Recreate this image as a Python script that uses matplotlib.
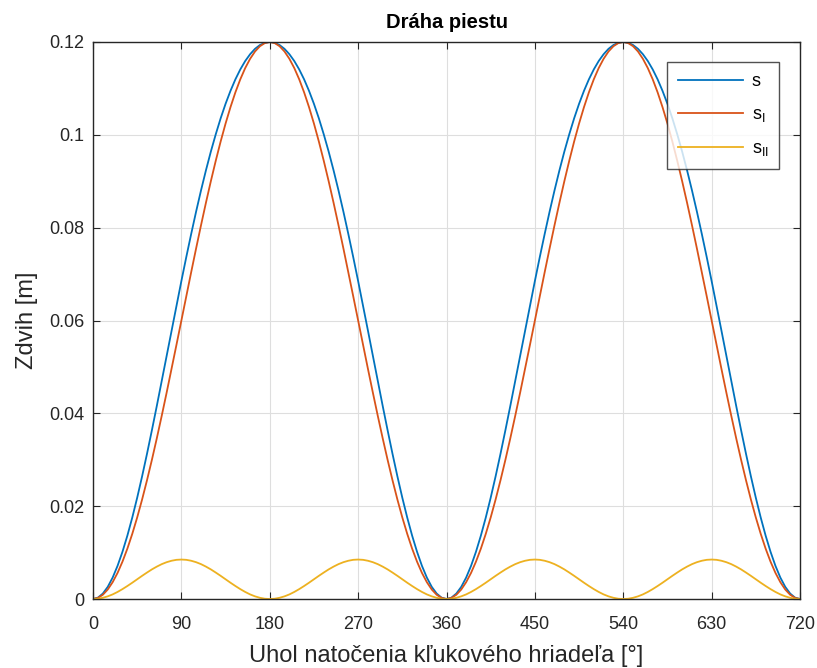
import numpy as np
import matplotlib
matplotlib.use("Agg")
import matplotlib.pyplot as plt

plt.rcParams['font.family'] = ['Liberation Sans', 'DejaVu Sans']
plt.rcParams['mathtext.fontset'] = 'custom'
plt.rcParams['mathtext.rm'] = 'Liberation Sans'

# Half cycle 0..180 deg, step 5 deg
s_half = [0, .00029, .00117, .00261, .00461, .00714, .01017, .01365, .01755, .02182,
          .02642, .03129, .03638, .04162, .04699, .05240, .05782, .06321, .06850,
          .07367, .07866, .08346, .08803, .09234, .09638, .10011, .10356, .10668,
          .10947, .11195, .11409, .11590, .11737, .11853, .11935, .11983, .12000]
sI_half = [0, .00023, .00091, .00204, .00362, .00562, .00804, .01085, .01404, .01757,
           .02143, .02559, .03000, .03464, .03948, .04447, .04958, .05477, .06000,
           .06523, .07042, .07553, .08052, .08536, .09000, .09441, .09857, .10243,
           .10596, .10915, .11196, .11438, .11638, .11796, .11909, .11977, .12000]
sII_half = [0, .00006, .00026, .00057, .00099, .00152, .00213, .00280, .00351, .00425,
            .00499, .00570, .00638, .00698, .00751, .00793, .00824, .00844, .00850,
            .00844, .00824, .00793, .00751, .00698, .00638, .00570, .00499, .00425,
            .00351, .00280, .00213, .00152, .00099, .00057, .00026, .00006, 0]

angle_step = 5
xticks = [0, 90, 180, 270, 360, 450, 540, 630, 720]
yticks = [0, 0.02, 0.04, 0.06, 0.08, 0.1, 0.12]
ytick_labels = ['0', '0.02', '0.04', '0.06', '0.08', '0.1', '0.12']
labels = ['s', r's$_\mathregular{I}$', r's$_\mathregular{II}$']
colors = ['#0072BD', '#D95319', '#EDB120']


def full(half):
    h = np.array(half)
    cyc = np.concatenate([h, h[-2::-1]])  # 0..360
    return np.concatenate([cyc, cyc[1:]])  # 0..720


s = full(s_half)
sI = full(sI_half)
sII = full(sII_half)
phi = np.arange(len(s)) * angle_step

fig = plt.figure(figsize=(8.17, 6.68), dpi=100)
ax = fig.add_axes([93/817, 69/668, 707/817, 557/668])

for y, lab, c in zip([s, sI, sII], labels, colors):
    ax.plot(phi, y, color=c, lw=1.3, label=lab)

ax.set_xlim(0, 720)
ax.set_ylim(0, 0.12)
ax.set_xticks(xticks)
ax.set_yticks(yticks)
ax.set_yticklabels(ytick_labels)
ax.grid(True, color='#dedede', lw=0.8)
ax.set_axisbelow(True)
ax.tick_params(direction='in', length=5, labelsize=13, colors='#262626',
               top=True, right=True)
ax.tick_params(axis='x', pad=12)
ax.tick_params(axis='y', pad=6)
for sp in ax.spines.values():
    sp.set_color('#262626')
    sp.set_linewidth(1.0)

ax.set_title('Dráha piestu', fontsize=14.5, fontweight='bold', pad=10)
ax.set_xlabel('Uhol natočenia kľukového hriadeľa [°]', fontsize=17, color='#262626', labelpad=9)
ax.set_ylabel('Zdvih [m]', fontsize=17, color='#262626', labelpad=8)

leg = ax.legend(loc='upper right', bbox_to_anchor=(0.971, 0.964), fontsize=13,
                frameon=True, fancybox=False, edgecolor='#262626', handlelength=3.6,
                borderpad=0.6, labelspacing=0.9, handletextpad=0.5, borderaxespad=0)
leg.get_frame().set_linewidth(1.0)

fig.savefig('out.png', dpi=100)
